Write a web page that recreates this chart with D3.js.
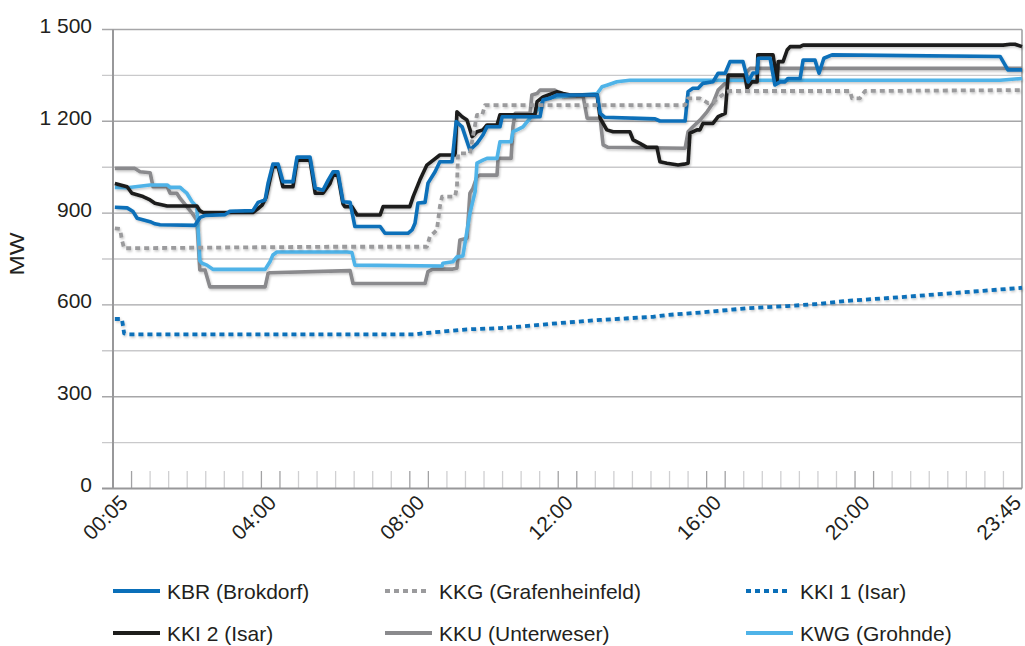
<!DOCTYPE html>
<html>
<head>
<meta charset="utf-8">
<script src="https://cdn.jsdelivr.net/npm/d3@7"></script>
<style>
body { margin: 0; background: #fff; }
text { font-family: "Liberation Sans", Arial, Helvetica, sans-serif; fill: #231f20; }
</style>
</head>
<body>
<div id="chart"></div>
<script>
// data: [hour, MW] (hour = position on the category axis, 5-min slots)
var tickLabels = ["00:05", "04:00", "08:00", "12:00", "16:00", "20:00", "23:45"];
var tickHours = [0, 4, 8, 12, 16, 20, 24.08];
var yTicks = [0, 300, 600, 900, 1200, 1500];

var kbr = [[0.05,919],[0.38,917],[0.54,905],[0.65,883],[1.00,872],[1.13,865],[1.27,862],[2.21,860],[2.35,886],[2.48,892],[3.02,895],[3.15,906],[3.77,908],[3.91,935],[4.10,943],[4.18,998],[4.31,1060],[4.45,1060],[4.58,1003],[4.85,1003],[4.96,1083],[5.31,1083],[5.45,982],[5.66,975],[5.80,1008],[5.93,1035],[6.06,1035],[6.20,937],[6.39,935],[6.52,856],[7.20,856],[7.33,834],[7.95,834],[8.06,845],[8.14,867],[8.22,933],[8.41,935],[8.49,998],[8.68,1035],[8.81,1068],[9.14,1068],[9.25,1199],[9.41,1182],[9.62,1106],[9.81,1128],[9.97,1155],[10.08,1182],[10.43,1182],[10.49,1215],[11.51,1215],[11.59,1270],[11.78,1275],[11.97,1286],[13.05,1286],[13.13,1226],[13.26,1213],[14.61,1208],[14.74,1201],[15.42,1201],[15.50,1297],[15.63,1308],[15.77,1308],[15.90,1324],[16.17,1329],[16.31,1357],[16.50,1357],[16.63,1395],[16.98,1395],[17.12,1329],[17.25,1358],[17.36,1358],[17.39,1406],[17.71,1406],[17.84,1319],[17.98,1329],[18.11,1329],[18.19,1340],[18.52,1340],[18.60,1400],[18.92,1400],[19.03,1357],[19.16,1406],[19.38,1417],[23.91,1412],[24.12,1368],[24.50,1368]];

var kkg = [[0.05,850],[0.19,848],[0.24,812],[0.30,785],[2.34,787],[5.85,790],[8.46,790],[8.54,823],[8.73,845],[8.81,921],[8.87,954],[9.22,954],[9.27,986],[9.30,1095],[9.62,1095],[9.70,1150],[9.81,1221],[9.95,1221],[10.03,1253],[15.42,1253],[15.50,1275],[15.82,1275],[15.90,1270],[16.04,1259],[16.17,1262],[16.36,1280],[16.55,1297],[16.63,1299],[19.86,1299],[19.92,1275],[20.13,1275],[20.27,1299],[24.50,1302]];

var kki1 = [[0.05,554],[0.24,554],[0.30,507],[0.40,504],[8.19,504],[8.33,507],[8.81,512],[9.54,520],[10.43,524],[10.97,529],[11.97,540],[13.13,551],[14.55,561],[14.93,567],[15.82,575],[17.09,589],[18.17,596],[18.97,603],[19.86,614],[21.21,625],[22.56,638],[23.45,646],[24.50,656]];

var kki2 = [[0.05,997],[0.38,986],[0.51,965],[0.81,954],[1.00,943],[1.13,932],[1.46,923],[2.26,923],[2.34,908],[2.43,902],[3.77,902],[3.91,915],[4.02,926],[4.12,950],[4.18,982],[4.31,1052],[4.45,1052],[4.58,986],[4.85,986],[4.96,1073],[5.31,1073],[5.45,965],[5.66,965],[5.85,997],[5.93,1024],[6.06,1024],[6.20,930],[6.25,921],[6.44,921],[6.58,894],[7.20,894],[7.28,921],[8.00,921],[8.09,954],[8.27,1008],[8.46,1057],[8.81,1090],[9.22,1090],[9.27,1231],[9.41,1215],[9.54,1204],[9.68,1150],[9.81,1166],[9.97,1172],[10.08,1188],[10.35,1188],[10.43,1221],[11.37,1221],[11.43,1264],[11.59,1280],[11.97,1297],[12.13,1291],[12.32,1286],[13.05,1286],[13.13,1210],[13.31,1172],[13.48,1166],[13.93,1166],[14.02,1139],[14.20,1128],[14.39,1115],[14.66,1115],[14.74,1068],[14.93,1063],[15.23,1057],[15.39,1060],[15.50,1063],[15.55,1161],[15.74,1172],[15.82,1172],[15.90,1193],[16.17,1193],[16.31,1215],[16.50,1226],[16.58,1351],[17.03,1351],[17.09,1308],[17.22,1329],[17.36,1329],[17.38,1417],[17.79,1417],[17.90,1329],[17.93,1395],[18.06,1395],[18.17,1433],[18.25,1444],[18.52,1444],[18.60,1449],[23.99,1449],[24.18,1452],[24.31,1452],[24.50,1444]];

var kku = [[0.05,1046],[0.59,1046],[0.73,1035],[1.00,1032],[1.08,986],[1.46,986],[1.54,965],[1.72,965],[1.81,948],[1.99,921],[2.13,900],[2.26,877],[2.34,714],[2.48,714],[2.61,659],[4.10,659],[4.18,703],[4.23,705],[6.39,712],[6.47,670],[8.41,670],[8.49,709],[8.62,717],[9.16,717],[9.27,720],[9.35,812],[9.54,818],[9.62,965],[9.70,981],[9.81,1019],[9.89,1024],[10.35,1024],[10.38,1079],[10.73,1079],[10.78,1182],[10.84,1226],[11.24,1226],[11.29,1286],[11.43,1291],[11.51,1302],[11.91,1302],[12.13,1280],[12.67,1282],[12.78,1210],[13.13,1210],[13.21,1123],[13.34,1115],[15.42,1112],[15.50,1166],[15.63,1182],[15.82,1204],[16.01,1231],[16.17,1259],[16.31,1302],[16.50,1324],[16.63,1340],[16.98,1340],[17.09,1362],[17.17,1373],[24.50,1373]];

var kwg = [[0.05,984],[0.38,983],[1.00,992],[1.46,992],[1.54,984],[1.81,984],[1.89,975],[1.99,965],[2.13,937],[2.26,921],[2.34,745],[2.40,736],[2.53,730],[2.70,716],[4.10,716],[4.23,741],[4.31,763],[4.42,773],[6.31,773],[6.44,771],[6.52,730],[8.87,727],[8.89,736],[9.16,741],[9.27,757],[9.43,760],[9.62,899],[9.76,970],[9.81,1063],[9.97,1073],[10.08,1079],[10.35,1079],[10.43,1133],[10.73,1133],[10.78,1166],[10.89,1172],[11.05,1182],[11.24,1210],[11.37,1226],[11.51,1248],[11.59,1270],[11.78,1278],[13.05,1291],[13.18,1313],[13.31,1318],[13.58,1329],[13.93,1334],[23.91,1334],[24.50,1340]];

var series = [
	{name: "KKU (Unterweser)", values: kku, color: "#8a8a8d", dash: null},
	{name: "KWG (Grohnde)", values: kwg, color: "#4fb3e8", dash: null},
	{name: "KKI 2 (Isar)", values: kki2, color: "#1d1d1b", dash: null},
	{name: "KBR (Brokdorf)", values: kbr, color: "#0a6fb9", dash: null},
	{name: "KKG (Grafenheinfeld)", values: kkg, color: "#9b9b9d", dash: "5,4"},
	{name: "KKI 1 (Isar)", values: kki1, color: "#0a6fb9", dash: "5,4"}
];
var legendOrder = ["KBR (Brokdorf)", "KKG (Grafenheinfeld)", "KKI 1 (Isar)",
	"KKI 2 (Isar)", "KKU (Unterweser)", "KWG (Grohnde)"];

var width = 1025, height = 646;
var plotLeft = 113, plotRight = 1022, plotTop = 29.5, plotBottom = 488.5;

var svg = d3.select("#chart").append("svg")
	.attr("width", width).attr("height", height);

svg.append("rect").attr("width", width).attr("height", height).attr("fill", "#fff");

var defs = svg.append("defs");
defs.append("filter").attr("id", "shadow")
	.attr("x", "-5%").attr("y", "-5%").attr("width", "110%").attr("height", "120%")
	.append("feDropShadow")
	.attr("dx", 1).attr("dy", 1.5).attr("stdDeviation", 0.8)
	.attr("flood-color", "#000").attr("flood-opacity", 0.22);

var x = d3.scaleLinear().domain([0, 24.5]).range([plotLeft, plotRight]);
var y = d3.scaleLinear().domain([0, 1500]).range([plotBottom, plotTop]);

// grid
svg.selectAll("line.grid")
	.data(d3.range(150, 1501, 150))
	.enter().append("line")
	.attr("class", "grid")
	.attr("x1", 102).attr("x2", plotRight)
	.attr("y1", function(d) { return y(d); })
	.attr("y2", function(d) { return y(d); })
	.attr("stroke", function(d) { return d % 300 === 0 ? "#a6a6a8" : "#c9c9cb"; })
	.attr("stroke-width", 1.4);

// minor ticks on x axis
svg.selectAll("line.tick")
	.data(d3.range(0.5, 24.5, 0.5))
	.enter().append("line")
	.attr("class", "tick")
	.attr("x1", function(d) { return x(d); })
	.attr("x2", function(d) { return x(d); })
	.attr("y1", plotBottom - 17.5).attr("y2", plotBottom)
	.attr("stroke", function(d) { return (d % 4 === 0 || d % 4 === 0.5) && d < 24 ? "#a2a2a4" : "#d0d0d2"; })
	.attr("stroke-width", 1.3);

// axes frame
svg.append("line").attr("x1", plotLeft).attr("x2", plotLeft).attr("y1", plotTop).attr("y2", plotBottom)
	.attr("stroke", "#98989a").attr("stroke-width", 2);
svg.append("line").attr("x1", plotRight).attr("x2", plotRight).attr("y1", plotTop).attr("y2", plotBottom)
	.attr("stroke", "#a2a2a4").attr("stroke-width", 1.6);
svg.append("line").attr("x1", 102).attr("x2", plotRight).attr("y1", plotBottom).attr("y2", plotBottom)
	.attr("stroke", "#98989a").attr("stroke-width", 2);

// y labels
svg.selectAll("text.ylab")
	.data(yTicks)
	.enter().append("text")
	.attr("class", "ylab")
	.attr("x", 92)
	.attr("y", function(d) { return y(d) + 3.5; })
	.attr("text-anchor", "end")
	.attr("font-size", 21)
	.text(function(d) { return d3.format(",")(d).replace(",", " "); });

svg.append("text")
	.attr("transform", "translate(23.5,254) rotate(-90)")
	.attr("text-anchor", "middle")
	.attr("font-size", 21)
	.attr("textLength", 43)
	.attr("lengthAdjust", "spacingAndGlyphs")
	.text("MW");

// x labels
svg.selectAll("text.xlab")
	.data(tickLabels)
	.enter().append("text")
	.attr("class", "xlab")
	.attr("transform", function(d, i) {
		return "translate(" + (x(tickHours[i]) + 16) + ",504) rotate(-45)";
	})
	.attr("text-anchor", "end")
	.attr("font-size", 21)
	.text(function(d) { return d; });

// lines
var line = d3.line()
	.x(function(d) { return x(d[0]); })
	.y(function(d) { return y(d[1]); });

svg.selectAll("path.series")
	.data(series)
	.enter().append("path")
	.attr("class", "series")
	.attr("d", function(d) { return line(d.values); })
	.attr("fill", "none")
	.attr("stroke", function(d) { return d.color; })
	.attr("stroke-width", function(d) { return d.dash ? 3.8 : 3.6; })
	.attr("stroke-dasharray", function(d) { return d.dash; })
	.attr("stroke-linejoin", "round")
	.attr("filter", "url(#shadow)");

// legend
var colX = [113, 385, 746], rowY = [591, 633];
var legend = svg.selectAll("g.legend")
	.data(legendOrder.map(function(n) { return series.filter(function(s) { return s.name === n; })[0]; }))
	.enter().append("g")
	.attr("class", "legend")
	.attr("transform", function(d, i) { return "translate(" + colX[i % 3] + "," + rowY[Math.floor(i / 3)] + ")"; });

legend.append("line")
	.attr("x1", 0).attr("x2", function(d) { return d.dash ? 45 : 47; })
	.attr("y1", 0).attr("y2", 0)
	.attr("stroke", function(d) { return d.color; })
	.attr("stroke-width", 4)
	.attr("stroke-dasharray", function(d) { return d.dash; });

legend.append("text")
	.attr("x", 54).attr("y", 7.5)
	.attr("font-size", 21)
	.text(function(d) { return d.name; });
</script>
</body>
</html>
